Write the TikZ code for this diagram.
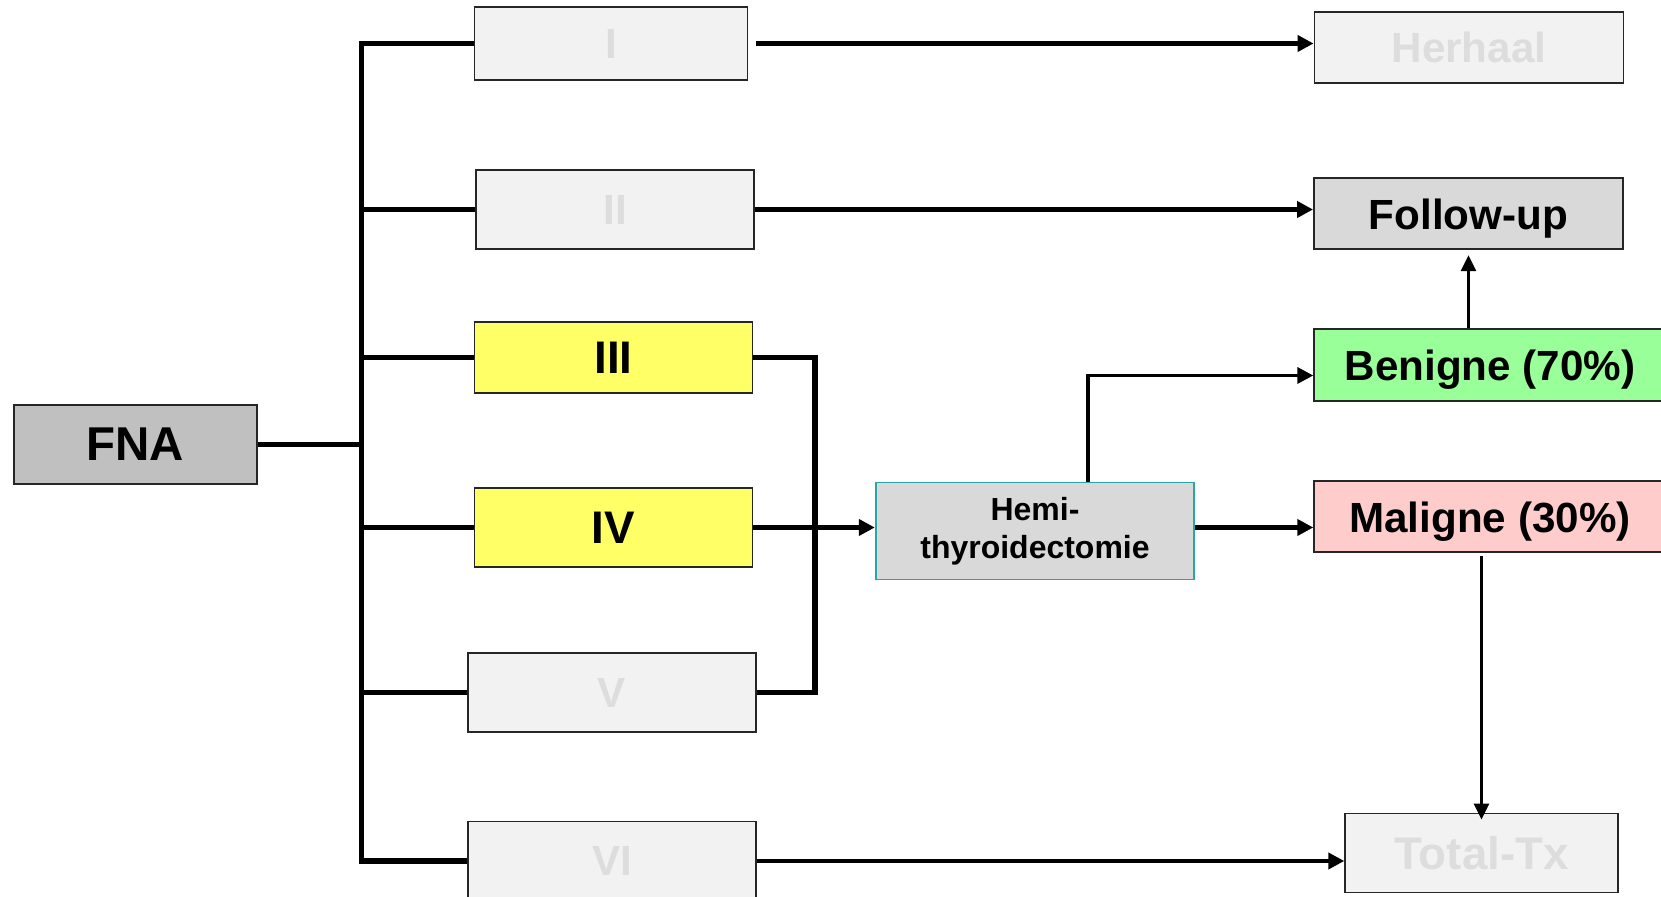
\documentclass[tikz,border=0pt]{standalone}
\usepackage{fontspec}
\setmainfont{Liberation Sans}
\usepackage{xcolor}
\definecolor{boxgray}{RGB}{242,242,242}
\definecolor{fadetext}{RGB}{221,221,221}
\definecolor{fnagray}{RGB}{192,192,192}
\definecolor{midgray}{RGB}{217,217,217}
\definecolor{hiyellow}{RGB}{255,255,102}
\definecolor{okgreen}{RGB}{153,255,153}
\definecolor{badpink}{RGB}{255,204,204}
\definecolor{tealedge}{RGB}{40,165,165}
\usetikzlibrary{arrows.meta, positioning}

\tikzset{
  stepbox/.style={draw=black!85, line width=1.1pt, inner sep=0pt, align=center,
                  font=\bfseries\fontsize{24}{28}\selectfont},
  fadebox/.style={stepbox, fill=boxgray, text=fadetext},
  numbox/.style={stepbox, font=\bfseries\fontsize{26}{30}\selectfont},
  lowtext/.style={text height=24pt, text depth=6pt},
  trunkline/.style={line width=3.3pt},
  branchline/.style={line width=2.9pt},
  flowarrow/.style={line width=2.5pt, -{Triangle[length=9pt,width=9pt]}},
  thinarrow/.style={line width=1.5pt, -{Triangle[length=9pt,width=8.5pt]}}
}

\begin{document}
\begin{tikzpicture}

\useasboundingbox (0,0) rectangle (33.22,17.92);

% === Start ===
\node[stepbox, fill=fnagray, minimum width=4.86cm, minimum height=1.58cm,
      font=\bfseries\fontsize{27}{31}\selectfont] (fna) at (2.71,9.03) {FNA};

% === Bethesda categories ===
\node[numbox, fadebox, minimum width=5.46cm, minimum height=1.45cm] (b1) at (12.22,17.05) {I};
\node[numbox, fadebox, minimum width=5.56cm, minimum height=1.58cm] (b2) at (12.30,13.73) {II};
\node[numbox, fill=hiyellow, minimum width=5.56cm, minimum height=1.42cm] (b3) at (12.27,10.77) {III};
\node[numbox, fill=hiyellow, minimum width=5.56cm, minimum height=1.58cm] (b4) at (12.27,7.37) {IV};
\node[numbox, fadebox, minimum width=5.76cm, minimum height=1.58cm] (b5) at (12.24,4.07) {V};
\node[numbox, fadebox, minimum width=5.76cm, minimum height=1.58cm] (b6) at (12.24,0.70) {VI};

% === Surgery ===
\node[stepbox, draw=tealedge, fill=midgray, minimum width=6.37cm, minimum height=1.94cm,
      font=\bfseries\fontsize{18.2}{21.5}\selectfont] (hemi) at (20.70,7.30) {Hemi-\\thyroidectomie};

% === Outcomes ===
\node[stepbox, fill=boxgray, text=fadetext, minimum width=6.18cm, minimum height=1.43cm] (her) at (29.38,16.97) {Herhaal};
\node[stepbox, lowtext, fill=midgray, minimum width=6.18cm, minimum height=1.42cm] (fup) at (29.37,13.65) {Follow-up};
\node[stepbox, lowtext, fill=okgreen, minimum width=7.03cm, minimum height=1.44cm] (ben) at (29.80,10.62) {Benigne (70\%)};
\node[stepbox, lowtext, fill=badpink, minimum width=7.03cm, minimum height=1.41cm] (mal) at (29.80,7.59) {Maligne (30\%)};
\node[stepbox, fill=boxgray, text=fadetext, minimum width=5.45cm, minimum height=1.58cm,
      font=\bfseries\fontsize{26}{30}\selectfont] (tot) at (29.63,0.86) {Total-Tx};

% helper points
\coordinate (trunk) at (7.23,9.03);
\coordinate (brk) at (16.30,7.37);
\coordinate (split) at (21.76,10.41);

% === Tree from FNA ===
\draw[trunkline] (fna.east) -- (fna.east -| trunk);
\draw[trunkline] (b1.west) -- (b1.west -| trunk) -- (b6.west -| trunk) -- (b6.west);
\foreach \b in {b2,b3,b4,b5}
  \draw[branchline] (\b.west -| trunk) -- (\b.west);

% III and V join IV
\draw[branchline] (b3.east) -- (b3.east -| brk) -- (b5.east -| brk) -- (b5.east);

% === Arrows ===
\draw[flowarrow, shorten <=4pt] (b1.east) -- (b1.east -| her.west);
\draw[flowarrow] (b2.east) -- (b2.east -| fup.west);
\draw[flowarrow] (b4.east) -- (b4.east -| hemi.west);
\draw[flowarrow] (b4.east -| hemi.east) -- (b4.east -| mal.west);
\draw[flowarrow, line width=2pt] (hemi.north -| split) -- (split) -- (split -| ben.west);
\draw[thinarrow, shorten >=3pt] (ben.north -| fup.south) -- (fup.south);
\draw[thinarrow, shorten <=2pt] (mal.south -| tot.north) -- ([yshift=-4pt]tot.north);
\draw[flowarrow] (b6.east) -- (b6.east -| tot.west);

\end{tikzpicture}
\end{document}
